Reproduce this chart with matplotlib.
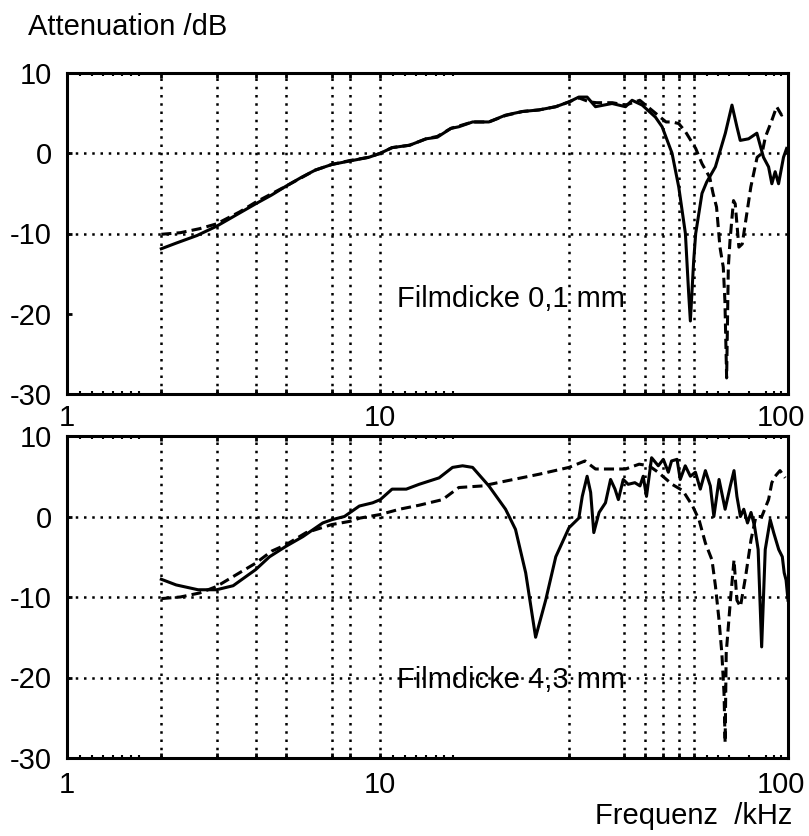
import matplotlib
matplotlib.use('Agg')
import matplotlib.pyplot as plt
from matplotlib.ticker import FixedLocator, NullFormatter, NullLocator

plt.rcParams['font.family'] = ['Liberation Sans', 'DejaVu Sans']
plt.rcParams['font.size'] = 21

# ---------------- data ----------------
# top panel: Filmdicke 0,1 mm
top_solid_f = [2.0, 2.23, 2.6, 3.0, 3.5, 4.0, 4.5, 5.0, 5.6, 6.2, 7.0, 8.0, 9.2, 10.0,
               10.9, 12.4, 14.0, 15.2, 16.8, 17.8, 19.7, 22.2, 25.1, 28.4, 32.1, 36.3,
               40.0, 43.0, 45.7, 48.6, 54.9, 60.6, 63.6, 68.5, 75.5, 79.3, 85.3, 89.6,
               94.1, 96.4, 97.6, 100, 101.5, 106.3, 110, 117.3, 126.2, 132.5, 137.4,
               140.8, 149.7, 159.1, 167, 173.4, 177.6, 182, 186.6, 193.5, 198]
top_solid_db = [-11.9, -11.2, -10.25, -9.1, -7.6, -6.3, -5.2, -4.1, -3.0, -2.1, -1.4, -0.96, -0.5, 0.0,
                0.7, 1.0, 1.8, 2.0, 3.1, 3.3, 3.9, 3.9, 4.75, 5.2, 5.4, 5.8,
                6.4, 7.0, 7.0, 5.8, 6.2, 5.8, 6.6, 6.0, 4.5, 3.3, 0.0, -4.2,
                -10.0, -17.5, -20.9, -13.4, -10.0, -5.0, -3.6, -1.7, 2.5, 6.0, 3.3,
                1.6, 1.8, 2.5, -0.5, -1.7, -3.8, -2.3, -3.8, -0.5, 0.6]

top_dash_f = [2.0, 2.3, 2.65, 3.0, 3.56, 4.0, 5.0, 6.2, 7.0, 8.0, 9.2, 10.0, 10.9, 12.4,
              14.0, 15.2, 16.8, 19.7, 22.2, 25.1, 28.4, 32.1, 36.3, 40.0, 43.0, 46.5,
              49.0, 55.0, 60.6, 67.3, 75.5, 81.6, 85.3, 89.6, 94.1, 101.5, 106.3, 112.5,
              115.3, 118.3, 121.3, 124.3, 125.8, 127.4, 129.0, 130.6, 134.0, 135.7,
              139.4, 142.9, 146.6, 152.2, 159.4, 165.3, 169.3, 177.6, 184.0, 190.8, 197.7]
top_dash_db = [-10.1, -9.9, -9.4, -8.8, -7.3, -6.1, -4.1, -2.1, -1.4, -0.9, -0.5, 0.0, 0.7, 1.0,
               1.8, 2.1, 3.1, 3.9, 3.9, 4.7, 5.2, 5.4, 5.8, 6.4, 6.9, 6.4,
               6.3, 6.3, 6.0, 6.6, 5.0, 3.9, 3.9, 3.7, 2.7, 0.6, -1.3, -3.0,
               -5.0, -6.7, -11.7, -14.2, -18.4, -28.0, -14.2, -10.9, -5.9, -6.3,
               -11.7, -11.3, -8.4, -4.2, -0.5, 0.0, 2.0, 4.1, 5.8, 4.75, 5.2]

# bottom panel: Filmdicke 4,3 mm
bot_solid_f = [2.0, 2.23, 2.62, 3.0, 3.39, 4.0, 4.43, 5.0, 5.66, 6.55, 7.0, 7.68, 8.57, 9.45,
               10.0, 10.9, 12.1, 13.3, 15.4, 17.0, 18.3, 19.7, 22.2, 25.1, 27.0, 29.1,
               31.3, 33.7, 36.3, 40.0, 43.0, 44.1, 45.7, 46.9, 48.0, 49.9, 52.3, 54.3,
               56.1, 57.5, 59.6, 61.8, 64.9, 67.4, 69.0, 70.7, 73.4, 77.1, 80.0, 83.0,
               85.0, 88.5, 90.6, 94.0, 97.6, 101.3, 105, 109, 113, 116, 120.5, 126,
               130.9, 134.5, 137.4, 141, 144.5, 148.5, 152.4, 156.4, 160.6, 164.8,
               169.2, 175.5, 180, 186.8, 191.8, 194.5, 197.2, 200]
bot_solid_db = [-7.8, -8.5, -9.1, -9.1, -8.6, -6.6, -5.0, -3.7, -2.5, -0.8, -0.4, 0.0, 1.3, 1.7,
                2.1, 3.4, 3.4, 4.0, 4.8, 6.1, 6.3, 6.1, 3.8, 0.9, -1.6, -7.0,
                -15.0, -10.4, -5.0, -1.4, -0.2, 2.5, 5.0, 3.0, -2.0, 0.5, 1.7, 4.6,
                3.4, 2.1, 4.6, 4.0, 4.2, 3.8, 5.0, 2.5, 7.3, 6.3, 7.1, 5.5,
                6.9, 7.1, 4.6, 6.3, 5.0, 5.5, 3.4, 5.7, 3.8, 0.0, 4.6, 0.9,
                3.8, 5.7, 2.5, 0.0, 0.9, -0.8, 0.5, -1.2, -4.1, -16.2,
                -4.1, -0.4, -2.0, -4.1, -5.0, -7.0, -7.9, -10.4]

bot_dash_f = [2.0, 2.3, 2.65, 3.0, 3.55, 4.0, 4.5, 5.0, 5.8, 7.0, 8.0, 8.6, 10.0, 11.5,
              13.3, 15.8, 17.8, 21.2, 25.1, 32.1, 40.0, 45.0, 48.6, 56.0, 60.6, 67.0,
              72.0, 77.0, 85.3, 92.4, 99.2, 104, 109, 114.4, 117.4, 120.5, 123, 125,
              126, 127, 131, 134.5, 137.4, 141, 146.4, 152.4, 158, 165, 173.4, 177.6,
              182, 188.6, 195.9]
bot_dash_db = [-10.2, -10.0, -9.5, -8.7, -7.0, -5.8, -4.3, -3.5, -2.0, -1.0, -0.6, -0.2, 0.25, 0.9,
               1.4, 2.1, 3.6, 3.8, 4.4, 5.25, 6.1, 6.9, 5.9, 5.9, 5.9, 6.5,
               6.3, 5.5, 4.0, 3.2, 1.3, -0.4, -3.3, -5.4, -8.7, -12.9, -17.0, -22.0,
               -28.1, -17.0, -10.4, -5.4, -10.4, -11.2, -7.5, -2.9, 0.0, 0.0, 2.1, 4.2,
               5.0, 5.7, 4.8]

y_ticks = [10, 0, -10, -20, -30]
y_labels = ['10', '0', '-10', '-20', '-30']
x_grid = [2, 3, 4, 5, 7, 8, 10, 40, 60, 70, 80, 90, 100]
x_small = [1.1, 1.2, 1.3, 1.4, 1.5, 1.6, 1.7, 11, 12, 13, 14, 15, 16, 17,
           110, 120, 130, 150, 170, 180, 190]
x_label_pos = [1, 10, 190]
x_labels = ['1', '10', '100']
top_hgrid = [0, -10]
bot_hgrid = [0, -10, -20]

# ---------------- figure ----------------
fig = plt.figure(figsize=(8.09, 8.36), dpi=100)
ax1 = fig.add_axes([67 / 809, 1 - 394 / 836, 721 / 809, 321 / 836])
ax2 = fig.add_axes([67 / 809, 1 - 758 / 836, 721 / 809, 322 / 836])

dot = (0, (1, 2.3))
dash = (0, (3.3, 1.7))


def style(ax, hgrid, label_pad):
    ax.set_xscale('log')
    ax.set_xlim(1, 200)
    ax.set_ylim(-30, 10)
    ax.set_yticks(y_ticks)
    ax.set_yticklabels(y_labels)
    ax.tick_params(axis='y', direction='in', length=3.6, width=2, pad=10.8,
                   left=True, right=False)
    ax.xaxis.set_major_locator(FixedLocator(x_grid))
    ax.xaxis.set_major_formatter(NullFormatter())
    ax.xaxis.set_minor_locator(FixedLocator(x_small))
    ax.xaxis.set_minor_formatter(NullFormatter())
    ax.tick_params(axis='x', which='major', direction='in', length=3.6, width=2,
                   top=True, bottom=True)
    ax.tick_params(axis='x', which='minor', direction='in', length=2.2, width=1.5,
                   top=True, bottom=True)
    for xv in x_grid:
        ax.axvline(xv, color='black', lw=1.8, linestyle=dot, zorder=1)
    for yv in hgrid:
        ax.axhline(yv, color='black', lw=1.8, linestyle=dot, zorder=1)
    for s in ax.spines.values():
        s.set_linewidth(2.2)
    sec = ax.secondary_xaxis('bottom')
    sec.set_ticks(x_label_pos, labels=x_labels)
    sec.xaxis.set_minor_locator(NullLocator())
    sec.tick_params(length=0, pad=label_pad)
    sec.spines['bottom'].set_visible(False)


style(ax1, top_hgrid, 7.5)
style(ax2, bot_hgrid, 9.5)

ax1.plot(top_solid_f, top_solid_db, color='black', lw=2.2, zorder=3)
ax1.plot(top_dash_f, top_dash_db, color='black', lw=2.2, linestyle=dash, zorder=3)
ax2.plot(bot_solid_f, bot_solid_db, color='black', lw=2.2, zorder=3)
ax2.plot(bot_dash_f, bot_dash_db, color='black', lw=2.2, linestyle=dash, zorder=3)

ax1.text(11.3, -19.1, 'Filmdicke 0,1 mm', ha='left', va='baseline', zorder=4)
ax2.text(11.3, -21.25, 'Filmdicke 4,3 mm', ha='left', va='baseline', zorder=4)

fig.text(28 / 809, 1 - 35 / 836, 'Attenuation /dB', ha='left', va='baseline')
fig.text(792 / 809, 1 - 824 / 836, 'Frequenz  /kHz', ha='right', va='baseline')

fig.savefig('out.png', dpi=100)
